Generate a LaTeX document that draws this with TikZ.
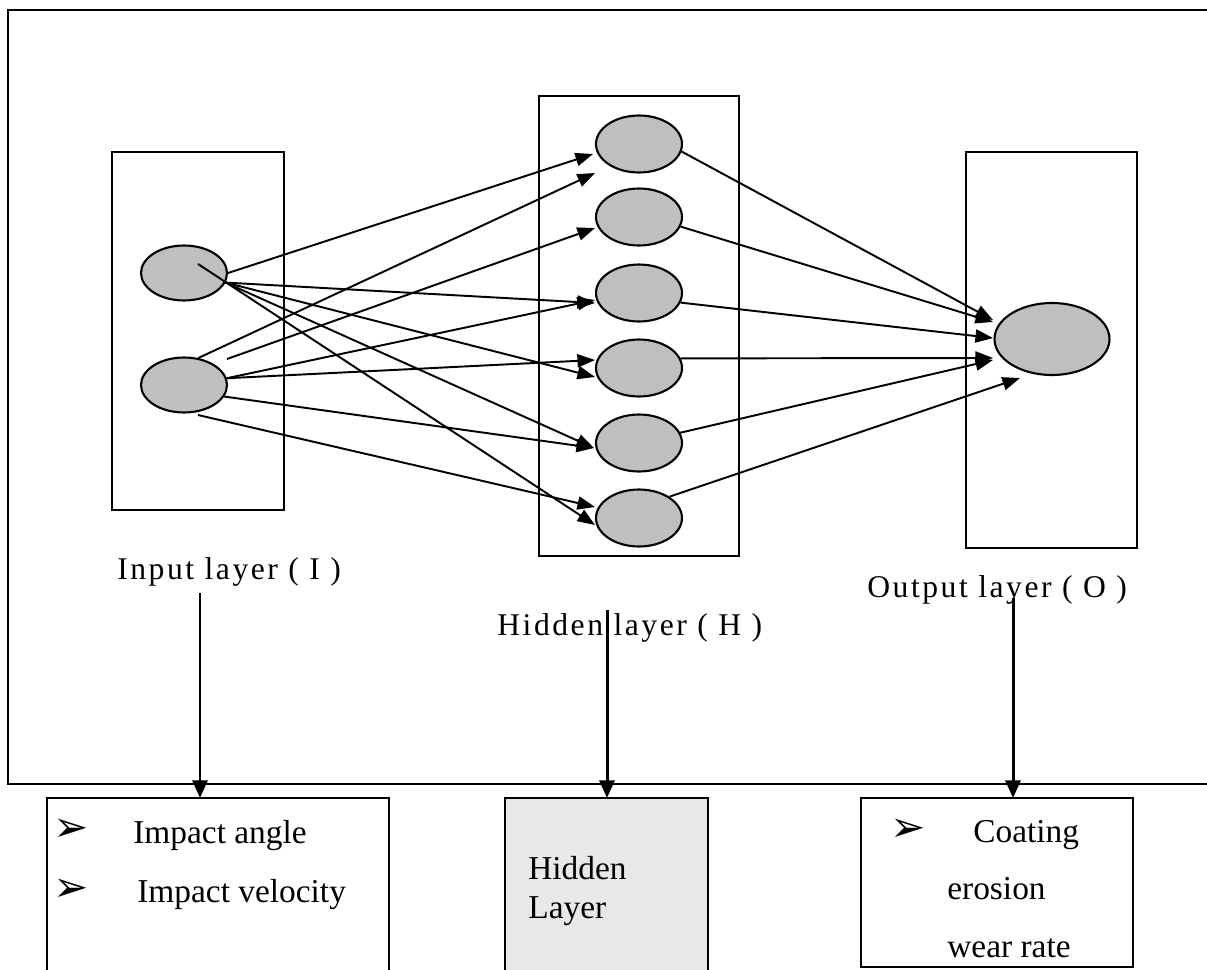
\documentclass[tikz,border=0pt]{standalone}
\usepackage{fontspec}
\setmainfont{Liberation Serif}
\newfontfamily\symfont{DejaVu Sans}
\usetikzlibrary{positioning, shapes.geometric, arrows.meta}

\begin{document}
\begin{tikzpicture}[x=0.02cm, y=-0.02cm,
  neuron/.style={ellipse, draw, fill=gray!50, line width=1.2pt, inner sep=0pt, minimum width=1.72cm, minimum height=1.1cm},
  wire/.style={-{Triangle[length=10pt,width=7.5pt]}, line width=1.1pt},
  drop/.style={-{Triangle[length=10pt,width=8.5pt]}, line width=1.7pt},
  layerlabel/.style={anchor=base west, inner sep=0pt, font=\fontsize{18}{21}\selectfont\addfontfeatures{LetterSpace=8}},
  boxtext/.style={anchor=base west, inner sep=0pt, font=\fontsize{19}{22}\selectfont},
  bullet/.style={inner sep=0pt, font=\symfont\fontsize{24}{26}\selectfont},
  outbox/.style={draw, line width=1.4pt, inner sep=0pt, outer sep=0pt}]

\useasboundingbox (0,0) rectangle (1207,970);
\fill[white] (0,0) rectangle (1207,970);
\draw[line width=1.6pt] (8,10) rectangle (1240,784);

\draw[line width=1.3pt] (112,152) rectangle (284,510);
\draw[line width=1.3pt] (539,96) rectangle (739,556);
\draw[line width=1.3pt] (966,152) rectangle (1137,548);

\node[neuron] (i1) at (184,273) {};
\node[neuron] (i2) at (184,385) {};
\foreach \n/\y in {1/144,2/217,3/293,4/368,5/443,6/518}
  \node[neuron, minimum height=1.14cm] (h\n) at (639,\y) {};
\node[neuron, minimum width=2.3cm, minimum height=1.44cm] (o) at (1052,339) {};

\draw[wire] (i1.east) -- ([shift={(-46,10)}]h1.center);
\draw[wire] ([shift={(14,-9)}]i1.center) -- ([shift={(-44,7)}]h6.center);
\draw[wire] (i1.-13) -- ([shift={(-44,10)}]h3.center);
\draw[wire] (i1.-13) -- ([shift={(-44,9)}]h4.center);
\draw[wire] (i1.-13) -- ([shift={(-45,5)}]h5.center);
\draw[wire] (i2.62) -- ([shift={(-44,29)}]h1.center);
\draw[wire] ([shift={(43,-26)}]i2.center) -- ([shift={(-44,11)}]h2.center);
\draw[wire] (i2.9) -- ([shift={(-44,7)}]h3.center);
\draw[wire] (i2.9) -- ([shift={(-44,-8)}]h4.center);
\draw[wire] (i2.-16) -- ([shift={(-45,5)}]h5.center);
\draw[wire] ([shift={(14,30)}]i2.center) -- ([shift={(-44,-11)}]h6.center);

\draw[wire] (h1.-10) -- ([shift={(-59,-19)}]o.center);
\draw[wire] (h2.-13) -- ([shift={(-59,-17)}]o.center);
\draw[wire] (h3.-13) -- ([shift={(-59,-1)}]o.center);
\draw[wire] (h4.13) -- ([shift={(-59,19)}]o.center);
\draw[wire] (h5.14) -- ([shift={(-59,21)}]o.center);
\draw[wire] (h6.35) -- ([shift={(-32,39)}]o.center);

\node[layerlabel] (ilab) at (117,579) {Input layer ( I )};
\node[layerlabel] (hlab) at (497,635) {Hidden layer ( H )};
\node[layerlabel] (olab) at (867,597) {Output layer ( O )};

\node[outbox, minimum width=6.84cm, minimum height=3.64cm] (ibox) at (218,889) {};
\node[outbox, fill=gray!18, minimum width=4.06cm, minimum height=3.64cm] (hbox) at (606.5,889) {};
\node[outbox, minimum width=5.44cm, minimum height=3.38cm] (obox) at (997,882.5) {};

\coordinate (istart) at (200,593);
\coordinate (hstart) at (607,610);
\coordinate (ostart) at (1013,598);
\draw[drop] (istart) -- (istart |- ibox.north);
\draw[drop] (hstart) -- (hstart |- hbox.north);
\draw[drop] (ostart) -- (ostart |- obox.north);

\node[bullet] (b1) at (71,830) {➢};
\node[boxtext] (t1) at (133,843) {Impact angle};
\node[bullet] (b2) at (71,890) {➢};
\node[boxtext] (t2) at (137,902) {Impact velocity};
\node[boxtext] (t3) at (528,879) {Hidden};
\node[boxtext] (t4) at (528,918) {Layer};
\node[bullet] (b3) at (908,830) {➢};
\node[boxtext] (t5) at (973,842) {Coating};
\node[boxtext] (t6) at (947,899) {erosion};
\node[boxtext] (t7) at (947,957) {wear rate};
\end{tikzpicture}
\end{document}
